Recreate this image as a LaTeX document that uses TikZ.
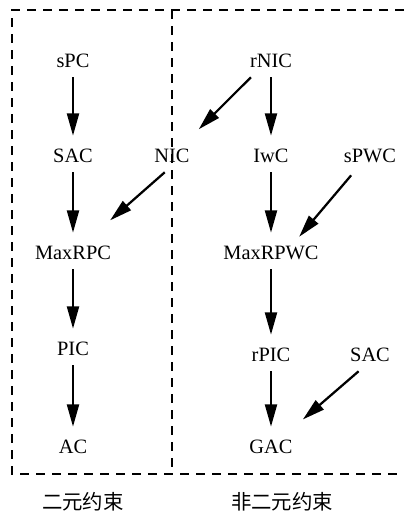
\documentclass[tikz,border=0pt]{standalone}
\usepackage{fontspec}
\setmainfont{Liberation Serif}
\newfontfamily\cjk{Noto Sans CJK SC}
\usetikzlibrary{positioning, arrows.meta}

\begin{document}
\begin{tikzpicture}[
  >={Triangle[length=0.56cm, width=0.3cm]},
  on grid,
  every node/.style={font=\fontsize{14.5pt}{17pt}\selectfont},
  lvl/.style={minimum height=0.8cm, inner xsep=0.1cm, inner ysep=0pt},
  arr/.style={->, line width=1.6pt, shorten >=0.1cm},
  frame/.style={line width=1.3pt, dash pattern=on 0.225cm off 0.175cm},
  zhlabel/.style={font=\fontsize{14.5pt}{17pt}\selectfont\cjk},
]
\useasboundingbox (0,0) rectangle (10.1,-12.9);

% === BINARY CONSISTENCIES (left) ===
\node[lvl] (spc) at (1.825,-1.525) {sPC};
\node[lvl, below=2.375cm of spc] (sac) {SAC};
\node[lvl, below=2.425cm of sac] (maxrpc) {MaxRPC};
\node[lvl, below=2.4cm of maxrpc] (pic) {PIC};
\node[lvl, below=2.45cm of pic] (ac) {AC};
\node[lvl, right=2.475cm of sac] (nic) {NIC};

\draw[arr] (spc) -- (sac);
\draw[arr] (sac) -- (maxrpc);
\draw[arr] (maxrpc) -- (pic);
\draw[arr] (pic) -- (ac);

% === NON-BINARY CONSISTENCIES (right) ===
\node[lvl, right=4.95cm of spc] (rnic) {rNIC};
\node[lvl, below=2.375cm of rnic] (iwc) {IwC};
\node[lvl, right=2.475cm of iwc] (spwc) {sPWC};
\node[lvl, below=2.425cm of iwc] (maxrpwc) {MaxRPWC};
\node[lvl, below=2.55cm of maxrpwc] (rpic) {rPIC};
\node[lvl, right=2.475cm of rpic] (sacn) {SAC};
\node[lvl, below=2.3cm of rpic] (gac) {GAC};

\draw[arr] (rnic) -- (iwc);
\draw[arr] (iwc) -- (maxrpwc);
\draw[arr] (maxrpwc) -- (rpic);
\draw[arr] (rpic) -- (gac);

% diagonal arrows
\draw[arr, shorten >=0.37cm] (rnic.219) -- (nic);
\draw[arr, shorten >=0.62cm] (nic.246) -- (maxrpc);
\draw[arr, shorten <=0.1cm, shorten >=0pt] (spwc.225) -- (maxrpwc.30);
\draw[arr, shorten >=0.43cm] (sacn.235) -- (gac);

% === DASHED FRAME ===
\draw[frame] (10.1,-0.25) -- (0.3,-0.25) -- (0.3,-11.85) -- (10.1,-11.85);
\draw[frame] (4.3,-0.25) -- (4.3,-11.85);

\node[zhlabel] (binlbl) at (2.075,-12.55) {二元约束};
\node[zhlabel] (nonbinlbl) at (7.05,-12.55) {非二元约束};

\end{tikzpicture}
\end{document}
